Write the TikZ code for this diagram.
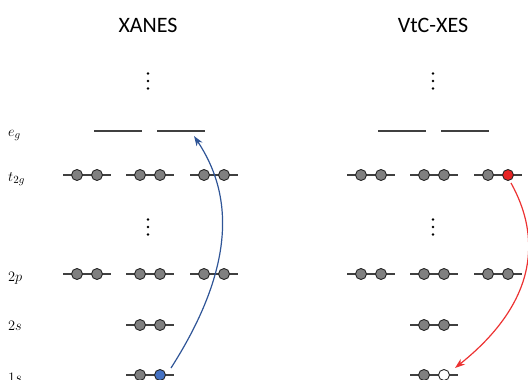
\documentclass[tikz,border=0pt]{standalone}
\usepackage{fontspec}
\setmainfont{Carlito}
\usetikzlibrary{arrows.meta}
\definecolor{orbgray}{RGB}{128,128,128}
\definecolor{lvl}{RGB}{64,64,64}
\definecolor{arrblue}{RGB}{47,85,151}
\definecolor{fillblue}{RGB}{68,114,196}
\definecolor{arrred}{RGB}{236,50,50}
\definecolor{fillred}{RGB}{230,35,35}
\newcommand{\opair}[5]{%
  \draw[level] (#2-24,#3) -- (#2+24,#3);
  \node[orb,fill=#4] (#1a) at (#2-10,#3) {};
  \node[orb,fill=#5] (#1b) at (#2+10,#3) {};}
\newcommand{\vdotsat}[2]{%
  \fill[black] (#1,#2-7.5) circle (1.4) (#1,#2) circle (1.4) (#1,#2+7.5) circle (1.4);}
\begin{document}
\begin{tikzpicture}[x=1pt,y=-1pt,
  orb/.style={circle,draw=black!85,line width=0.9pt,minimum size=11pt,inner sep=0pt},
  level/.style={draw=lvl,line width=1.2pt},
  eglevel/.style={draw=lvl,line width=1.4pt},
  title/.style={font=\fontsize{22}{24}\selectfont,anchor=base},
  lab/.style={font=\fontsize{15.5}{17}\selectfont,anchor=base west,inner sep=0pt},
  trans/.style={line width=1.2pt,-{Stealth[length=10pt,width=7pt,inset=3pt]}}]
\useasboundingbox (0,0) rectangle (528,380);
% titles
\node[title] (tx) at (148,32) {XANES};
\node[title] (tv) at (433,32) {VtC-XES};
% labels
\node[lab] (leg) at (8,136) {$e_g$};
\node[lab] (lt) at (8,181) {$t_{2g}$};
\node[lab] (l2p) at (8,281) {$2p$};
\node[lab] (l2s) at (8,330) {$2s$};
\node[lab] (l1s) at (8,382) {$1s$};
% dots
\vdotsat{148}{81}
\vdotsat{433}{81}
\vdotsat{148}{227}
\vdotsat{433}{227}
% e_g levels
\draw[eglevel] (94,131) -- (142,131);
\draw[eglevel] (157,131) -- (205,131);
\draw[eglevel] (378,131) -- (426,131);
\draw[eglevel] (441,131) -- (489,131);
\coordinate (egtip) at (194,136);
% XANES
\opair{Lta}{87}{175}{orbgray}{orbgray}
\opair{Ltb}{150}{175}{orbgray}{orbgray}
\opair{Ltc}{214}{175}{orbgray}{orbgray}
\opair{Lpa}{87}{274}{orbgray}{orbgray}
\opair{Lpb}{150}{274}{orbgray}{orbgray}
\opair{Lpc}{214}{274}{orbgray}{orbgray}
\opair{Ls}{150}{325}{orbgray}{orbgray}
\opair{Lk}{150}{375}{orbgray}{fillblue}
% VtC-XES
\opair{Rta}{371}{175}{orbgray}{orbgray}
\opair{Rtb}{434}{175}{orbgray}{orbgray}
\opair{Rtc}{498}{175}{orbgray}{fillred}
\opair{Rpa}{371}{274}{orbgray}{orbgray}
\opair{Rpb}{434}{274}{orbgray}{orbgray}
\opair{Rpc}{498}{274}{orbgray}{orbgray}
\opair{Rs}{434}{325}{orbgray}{orbgray}
\opair{Rk}{434}{375}{orbgray}{white}
% transitions
\draw[trans,arrblue] ([shift={(11,-7)}]Lkb.center) .. controls (240,260) and (230,190) .. (egtip);
\draw[trans,arrred] ([shift={(3,8)}]Rtcb.center) .. controls (540,235) and (540,300) .. ([shift={(11,-7)}]Rkb.center);
\end{tikzpicture}
\end{document}
